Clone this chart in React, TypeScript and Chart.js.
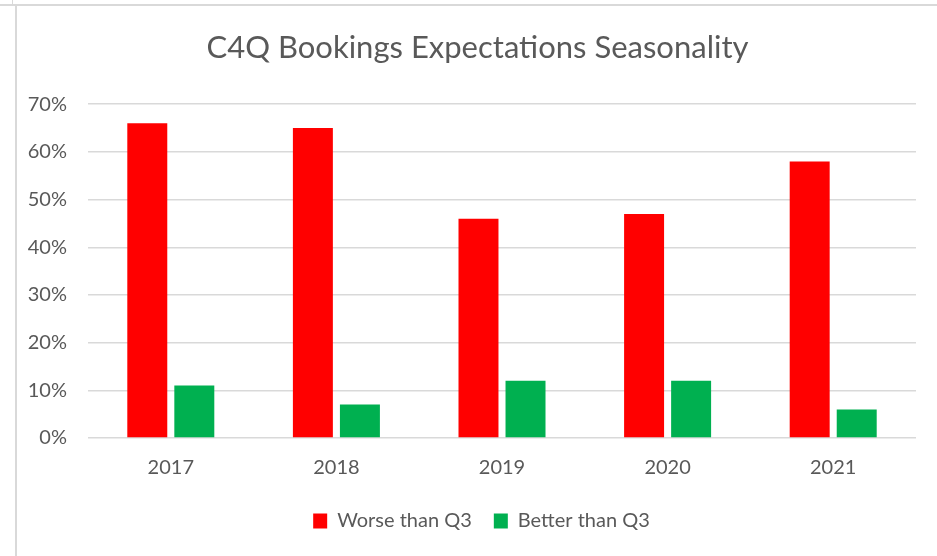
import React, { useEffect, useRef } from "react";
import { Chart, registerables } from "chart.js";

Chart.register(...registerables);

const title = "C4Q Bookings Expectations Seasonality";
const categories = ["2017", "2018", "2019", "2020", "2021"];
const worseThanQ3 = [0.66, 0.65, 0.46, 0.47, 0.58];
const betterThanQ3 = [0.11, 0.07, 0.12, 0.12, 0.06];
const seriesNames = ["Worse than Q3", "Better than Q3"];
const seriesColors = ["#FF0000", "#00B050"];

const FONT = "Lato, 'Open Sans', sans-serif";
const TEXT = "#595959";
const GRID = "#d9d9d9";

const boxShift = {
  id: "boxShift",
  afterLayout(chart: any) {
    const lg = chart.legend;
    if (lg) {
      lg.left += 15;
      lg.right += 15;
    }
    const tb = chart.titleBlock;
    if (tb) {
      tb.left += 11;
      tb.right += 11;
    }
  },
};

export default function App() {
  const ref = useRef<HTMLCanvasElement | null>(null);

  useEffect(() => {
    document.body.style.margin = "0";
    const ctx = ref.current!;
    const chart = new Chart(ctx, {
      type: "bar",
      data: {
        labels: categories,
        datasets: [
          {
            label: seriesNames[0],
            data: worseThanQ3,
            backgroundColor: seriesColors[0],
            categoryPercentage: 0.568,
            barPercentage: 0.85,
          },
          {
            label: seriesNames[1],
            data: betterThanQ3,
            backgroundColor: seriesColors[1],
            categoryPercentage: 0.568,
            barPercentage: 0.85,
          },
        ],
      },
      plugins: [boxShift],
      options: {
        animation: false,
        responsive: false,
        maintainAspectRatio: false,
        layout: { padding: { left: 0, right: 21, top: 0, bottom: 15 } },
        plugins: {
          title: {
            display: true,
            text: title,
            color: TEXT,
            font: { family: FONT, size: 31, weight: "normal" },
            padding: { top: 23, bottom: 38 },
          },
          legend: {
            position: "bottom",
            labels: {
              color: TEXT,
              font: { family: FONT, size: 20 },
              boxWidth: 14,
              boxHeight: 15,
              padding: 22,
            },
          },
          tooltip: { enabled: false },
        },
        scales: {
          x: {
            grid: { display: false, drawTicks: false },
            border: { display: false },
            ticks: { color: TEXT, font: { family: FONT, size: 20 }, padding: 18 },
            afterFit: (s: any) => {
              s.height = 51;
            },
          },
          y: {
            min: 0,
            max: 0.7,
            grid: { color: GRID, lineWidth: 1.5, drawTicks: false },
            border: { display: false },
            ticks: {
              stepSize: 0.1,
              color: TEXT,
              font: { family: FONT, size: 20 },
              padding: 21,
              callback: (v: any) => Math.round(Number(v) * 100) + "%",
            },
            afterFit: (s: any) => {
              s.width = 71;
            },
          },
        },
      },
    });
    return () => chart.destroy();
  }, []);

  return (
    <div style={{ position: "fixed", left: 0, top: 0, width: 937, height: 556, background: "#fff", overflow: "hidden" }}>
      <div style={{ position: "absolute", left: 0, top: 4, width: 937, height: 2, background: GRID }} />
      <div style={{ position: "absolute", left: 12, top: 0, width: 1, height: 4, background: GRID }} />
      <div style={{ position: "absolute", left: 15, top: 5, width: 2, height: 551, background: GRID }} />
      <canvas ref={ref} width={920} height={550} style={{ position: "absolute", left: 17, top: 6 }} />
    </div>
  );
}
